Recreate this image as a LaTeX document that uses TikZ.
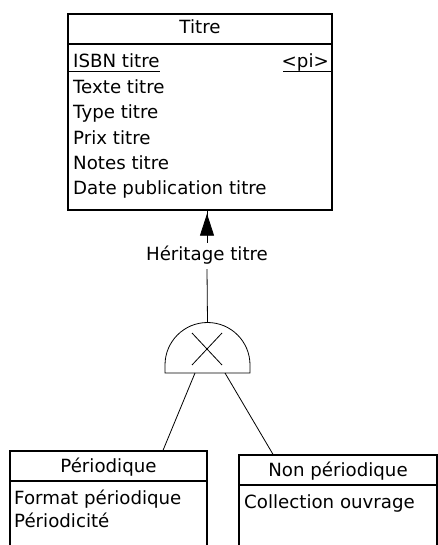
\documentclass[tikz,border=0pt]{standalone}
\usepackage{fontspec}
\setmainfont{DejaVu Sans}
\usetikzlibrary{arrows.meta}

\tikzset{
  entite/.style={draw,line width=1.3pt,inner sep=0pt},
  attr/.style={anchor=base west,inner sep=0pt,font=\fontsize{18.2}{20}\selectfont},
  entnom/.style={anchor=base,inner sep=0pt,font=\fontsize{18.2}{20}\selectfont},
  lien/.style={line width=0.8pt},
}

\begin{document}
\begin{tikzpicture}[x=1pt,y=-1pt]
	  \useasboundingbox (0,0) rectangle (438,545);
	  \clip (0,0) rectangle (438,545);
	  % entite Titre
	  \node[entite,minimum width=264pt,minimum height=196pt] (titre) at (200,112) {};
	  \draw[line width=1.3pt] (68,44) -- (332,44);
	  \node[entnom] (titrenom) at (200,34) {Titre};
	  \node[attr] (isbn) at (73,68) {ISBN titre};
	  \node[anchor=base east,inner sep=0pt,font=\fontsize{18.2}{20}\selectfont] (pi) at (329,68) {<pi>};
	  \draw[line width=1pt] (68,71.5) -- (isbn.east |- 0,71.5);
	  \draw[line width=1pt] (283,71.5) -- (332,71.5);
	  \node[attr] (texte) at (73,93.4) {Texte titre};
	  \node[attr] (type) at (73,118.8) {Type titre};
	  \node[attr] (prix) at (73,144.2) {Prix titre};
	  \node[attr] (notes) at (73,169.6) {Notes titre};
	  \node[attr] (date) at (73,195) {Date publication titre};
	  % heritage
	  \node[inner sep=0pt,minimum height=26pt,text height=13pt,text depth=3.5pt,
	    font=\fontsize{18.2}{20}\selectfont] (her) at (207,256) {Héritage titre};
	  \draw[lien] (her.north) -- (her.north |- titre.south);
	  \draw[lien,-{Triangle[width=14pt,length=22pt]},shorten >=3pt] (her.north) -- (her.north |- titre.south);
	  \coordinate (domtop) at (207.5,322.5);
	  \coordinate (domL) at (195,373);
	  \coordinate (domR) at (225,373);
	  \draw[lien] (her.south) -- (domtop);
	  \draw[lien] (165,373) -- (165,365) arc[start angle=180,end angle=360,x radius=42.5pt,y radius=-42.5pt] -- (250,373) -- cycle;
	  \draw[lien] (192,333) -- (222,365);
	  \draw[lien] (222,333) -- (192,365);
	  % entite Periodique
	  \node[entite,minimum width=197pt,minimum height=110pt] (perio) at (108.5,506) {};
	  \draw[line width=1.3pt] (10,481) -- (207,481);
	  \node[entnom] (perionom) at (108.5,472) {Périodique};
	  \node[attr] (format) at (14,504) {Format périodique};
	  \node[attr] (periodicite) at (14,527) {Périodicité};
	  % entite Non periodique
	  \node[entite,minimum width=198pt,minimum height=110pt] (nonperio) at (338,510) {};
	  \draw[line width=1.3pt] (239,485) -- (437,485);
	  \node[entnom] (nonperionom) at (338,476) {Non périodique};
	  \node[attr] (collection) at (244,508) {Collection ouvrage};
	  % liens
	  \draw[lien] (domL) -- (perio.north -| 163,0);
	  \draw[lien] (domR) -- (nonperio.north -| 273,0);
	\end{tikzpicture}
\end{document}
